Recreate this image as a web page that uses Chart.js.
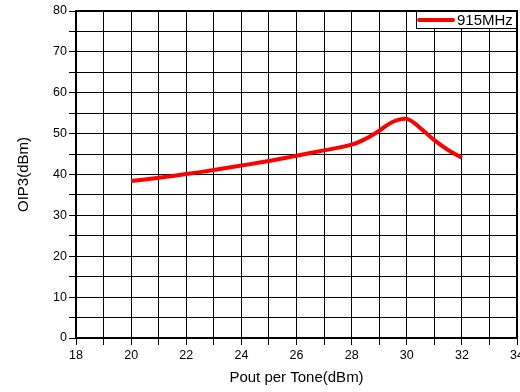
<!DOCTYPE html>
<html>
<head>
<meta charset="utf-8">
<script src="https://cdn.jsdelivr.net/npm/chart.js@4/dist/chart.umd.min.js"></script>
<style>
  html, body { margin: 0; padding: 0; background: #fff; }
  #wrap { width: 520px; height: 392px; }
</style>
</head>
<body>
<div id="wrap"><canvas id="myChart" width="520" height="392"></canvas></div>
<script>
var poutPerTone = [20, 21, 22, 23, 24, 25, 26, 27, 28, 28.5, 29, 29.5, 30, 30.5, 31, 31.5, 32];
var oip3_915 = [38.4, 39.2, 40.1, 41.1, 42.2, 43.3, 44.6, 45.9, 47.3, 48.7, 50.7, 52.9, 53.6, 51.3, 48.4, 46.0, 44.1];
var seriesLabel = '915MHz';

var fontFamily = '"Liberation Sans", Arial, sans-serif';

// frame round the plot + legend box inside the top-right corner
var framePlugin = {
  id: 'frame',
  afterDraw: function(chart) {
    var c = chart.ctx, a = chart.chartArea;
    c.save();
    c.strokeStyle = '#000';
    c.lineWidth = 2;
    c.strokeRect(a.left, a.top, a.right - a.left, a.bottom - a.top);

    var bw = 101, bh = 18;
    var bx = a.right - bw, by = a.top;
    c.fillStyle = '#fff';
    c.fillRect(bx, by, bw, bh);
    c.lineWidth = 1;
    c.strokeRect(bx + 0.5, by + 0.5, bw - 1, bh - 1);
    c.strokeStyle = '#ff0000';
    c.lineWidth = 4;
    c.lineCap = 'round';
    c.beginPath();
    c.moveTo(bx + 3, by + 9);
    c.lineTo(bx + 37, by + 9);
    c.stroke();
    c.fillStyle = '#000';
    c.font = '15px ' + fontFamily;
    c.textBaseline = 'middle';
    c.fillText(chart.data.datasets[0].label, bx + 41, by + 9.5);
    c.restore();
  }
};

var ctx = document.getElementById('myChart');
var myChart = new Chart(ctx, {
  type: 'line',
  data: {
    datasets: [{
      label: seriesLabel,
      data: poutPerTone.map(function(x, i) { return {x: x, y: oip3_915[i]}; }),
      borderColor: '#ff0000',
      borderWidth: 4,
      pointRadius: 0,
      fill: false,
      tension: 0.4
    }]
  },
  options: {
    responsive: false,
    animation: false,
    layout: { padding: { top: 11, right: 3, left: 0, bottom: 0 } },
    plugins: { legend: { display: false }, tooltip: { enabled: false } },
    scales: {
      x: {
        type: 'linear',
        min: 18, max: 34,
        afterFit: function(s) { s.height = 54; s.paddingRight = 0; s.paddingLeft = 0; },
        grid: { color: '#000', lineWidth: 1, tickLength: 7, tickColor: '#000' },
        border: { color: '#000', width: 2 },
        ticks: {
          stepSize: 1, autoSkip: false, maxRotation: 0, padding: 3,
          color: '#000', font: { family: fontFamily, size: 12.5 },
          callback: function(v) { return v % 2 === 0 ? v : ''; }
        },
        title: {
          display: true, text: 'Pout per Tone(dBm)', color: '#000',
          font: { family: fontFamily, size: 15 }, padding: { top: 0, bottom: 5 }
        }
      },
      y: {
        min: 0, max: 80,
        afterFit: function(s) { s.width = 76; s.paddingTop = 0; s.paddingBottom = 0; },
        grid: { color: '#000', lineWidth: 1, tickLength: 7, tickColor: '#000' },
        border: { color: '#000', width: 2 },
        ticks: {
          stepSize: 5, autoSkip: false, padding: 2,
          color: '#000', font: { family: fontFamily, size: 12.5 },
          callback: function(v) { return v % 10 === 0 ? v : ''; }
        },
        title: {
          display: true, text: 'OIP3(dBm)', color: '#000',
          font: { family: fontFamily, size: 15 }, padding: { top: 15, bottom: 0 }
        }
      }
    }
  },
  plugins: [framePlugin]
});
</script>
</body>
</html>
